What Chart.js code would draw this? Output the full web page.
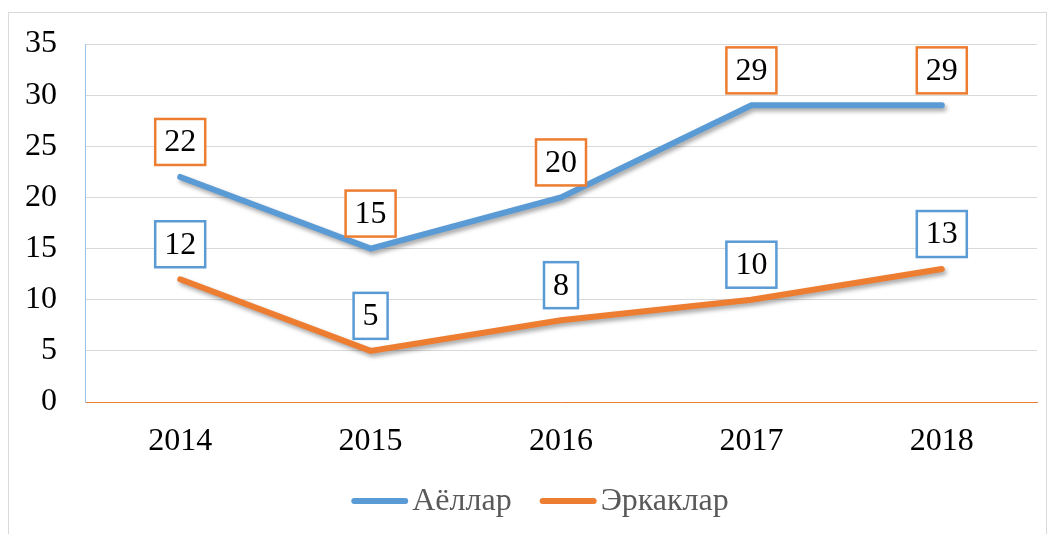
<!DOCTYPE html>
<html>
<head>
<meta charset="utf-8">
<script src="https://cdn.jsdelivr.net/npm/chart.js@4.4.0/dist/chart.umd.min.js"></script>
<style>
  html, body { margin: 0; padding: 0; background: #fff; }
  #wrap { width: 1054px; height: 534px; position: relative; }
</style>
</head>
<body>
<div id="wrap"><canvas id="chart" width="1054" height="534"></canvas></div>
<script>
const years = ['2014', '2015', '2016', '2017', '2018'];
const womenValues = [22, 15, 20, 29, 29];
const menValues = [12, 5, 8, 10, 13];
const yTicks = [0, 5, 10, 15, 20, 25, 30, 35];

const BLUE = '#5B9BD5';
const ORANGE = '#ED7D31';
const FONT = "'Liberation Serif', 'Times New Roman', serif";

// outer frame + line shadows
const framePlugin = {
    id: 'frame',
    beforeDraw(chart) {
        const ctx = chart.ctx;
        ctx.save();
        ctx.strokeStyle = '#D9D9D9';
        ctx.lineWidth = 1;
        ctx.strokeRect(8.5, 12.5, 1038, 530);
        ctx.restore();
    },
    beforeDatasetDraw(chart) {
        const ctx = chart.ctx;
        ctx.save();
        ctx.shadowColor = 'rgba(0,0,0,0.35)';
        ctx.shadowBlur = 4;
        ctx.shadowOffsetX = 2;
        ctx.shadowOffsetY = 3;
    },
    afterDatasetDraw(chart) {
        chart.ctx.restore();
    }
};

// boxed value labels above each point
const boxLabels = {
    id: 'boxLabels',
    afterDatasetsDraw(chart) {
        const ctx = chart.ctx;
        ctx.save();
        ctx.font = '32px ' + FONT;
        ctx.textAlign = 'center';
        ctx.textBaseline = 'middle';
        chart.data.datasets.forEach((ds, i) => {
            const meta = chart.getDatasetMeta(i);
            meta.data.forEach((pt, j) => {
                const txt = String(ds.data[j]);
                const w = ctx.measureText(txt).width + 18;
                const h = 46;
                const cx = pt.x;
                const cy = pt.y - 35;
                ctx.fillStyle = '#fff';
                ctx.fillRect(cx - w / 2, cy - h / 2, w, h);
                ctx.strokeStyle = ds.labelBorder;
                ctx.lineWidth = 2.5;
                ctx.strokeRect(cx - w / 2, cy - h / 2, w, h);
                ctx.fillStyle = '#000';
                ctx.fillText(txt, cx, cy + 1);
            });
        });
        ctx.restore();
    }
};

// legend drawn by hand so the spacing matches the original
const legendPlugin = {
    id: 'handLegend',
    afterDraw(chart) {
        const ctx = chart.ctx;
        const lineW = 57, gapText = 4, gapItem = 28, y = 501;
        ctx.save();
        ctx.font = '32px ' + FONT;
        ctx.textBaseline = 'middle';
        const items = chart.data.datasets.map(ds => ({
            text: ds.label, color: ds.borderColor, tw: ctx.measureText(ds.label).width
        }));
        let total = 0;
        items.forEach((it, k) => { total += lineW + gapText + it.tw + (k ? gapItem : 0); });
        let x = 540 - total / 2;
        items.forEach(it => {
            ctx.strokeStyle = it.color;
            ctx.lineWidth = 6;
            ctx.lineCap = 'round';
            ctx.beginPath();
            ctx.moveTo(x + 3, y);
            ctx.lineTo(x + lineW - 3, y);
            ctx.stroke();
            ctx.fillStyle = '#595959';
            ctx.fillText(it.text, x + lineW + gapText, y + 1);
            x += lineW + gapText + it.tw + gapItem;
        });
        ctx.restore();
    }
};

new Chart(document.getElementById('chart').getContext('2d'), {
    type: 'line',
    data: {
        labels: years,
        datasets: [{
            label: 'Аёллар',
            data: womenValues,
            borderColor: BLUE,
            backgroundColor: BLUE,
            borderWidth: 6,
            borderCapStyle: 'round',
            pointRadius: 0,
            labelBorder: ORANGE
        }, {
            label: 'Эркаклар',
            data: menValues,
            borderColor: ORANGE,
            backgroundColor: ORANGE,
            borderWidth: 6,
            borderCapStyle: 'round',
            pointRadius: 0,
            labelBorder: BLUE
        }]
    },
    options: {
        responsive: false,
        animation: false,
        layout: { padding: { top: 19, right: 17, bottom: 58, left: 0 } },
        scales: {
            x: {
                offset: true,
                grid: { display: false, drawTicks: false },
                border: { color: ORANGE, width: 1 },
                ticks: { color: '#000', font: { family: FONT, size: 32 }, padding: 20 },
                afterFit(scale) { scale.height = 74; }
            },
            y: {
                min: 0,
                max: 35,
                afterBuildTicks(scale) { scale.ticks = yTicks.map(v => ({ value: v })); },
                grid: { color: '#D9D9D9', drawTicks: false },
                border: { color: '#9DC3E6', width: 1 },
                ticks: { color: '#000', font: { family: FONT, size: 32, lineHeight: 1 }, padding: 28 },
                afterFit(scale) { scale.width = 85; }
            }
        },
        plugins: {
            legend: { display: false },
            tooltip: { enabled: false }
        }
    },
    plugins: [framePlugin, boxLabels, legendPlugin]
});
</script>
</body>
</html>
